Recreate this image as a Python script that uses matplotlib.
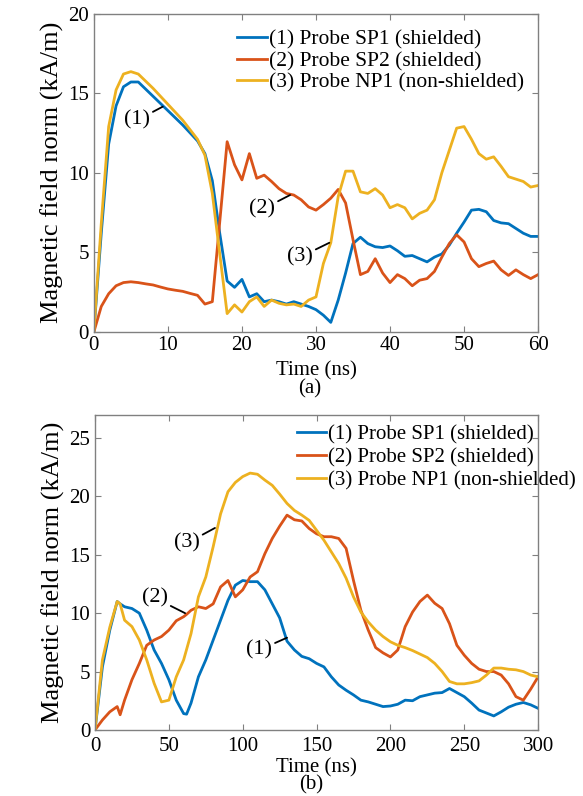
import numpy as np
import matplotlib.pyplot as plt

plt.rcParams['font.family'] = ['Liberation Serif', 'DejaVu Serif']

C1, C2, C3 = '#0072BD', '#D95319', '#EDB120'
labels = ['(1) Probe SP1 (shielded)', '(2) Probe SP2 (shielded)',
          '(3) Probe NP1 (non-shielded)']

# ---- panel (a): 0-60 ns ----
t_a = np.arange(0, 61)
sp1_a = [0, 6.2, 11.8, 14.2, 15.4, 15.7, 15.7, 15.25, 14.8, 14.35, 13.9, 13.45,
         13.0, 12.5, 12.0, 11.2, 9.5, 6.2, 3.2, 2.8, 3.3, 2.2, 2.4, 1.9, 2.0,
         1.9, 1.75, 1.9, 1.75, 1.6, 1.4, 1.05, 0.6, 2.0, 3.7, 5.55, 5.95, 5.55,
         5.35, 5.3, 5.4, 5.1, 4.75, 4.8, 4.6, 4.4, 4.7, 4.9, 5.45, 6.2, 6.9,
         7.65, 7.7, 7.55, 7.0, 6.85, 6.8, 6.5, 6.2, 6.0, 6.0]
sp2_a = [0, 1.6, 2.4, 2.9, 3.1, 3.15, 3.1, 3.02, 2.95, 2.82, 2.7, 2.62, 2.55,
         2.42, 2.3, 1.75, 1.9, 6.9, 11.95, 10.5, 9.55, 11.2, 9.65, 9.85, 9.45,
         9.0, 8.7, 8.6, 8.3, 7.85, 7.65, 8.0, 8.4, 8.95, 8.1, 5.8, 3.6, 3.8,
         4.6, 3.7, 3.1, 3.6, 3.35, 2.9, 3.25, 3.35, 3.8, 4.7, 5.55, 6.1, 5.65,
         4.6, 4.1, 4.3, 4.45, 3.9, 3.55, 3.9, 3.6, 3.35, 3.6]
np1_a = [0, 6.8, 12.9, 15.2, 16.2, 16.35, 16.2, 15.75, 15.3, 14.8, 14.3, 13.8,
         13.3, 12.7, 12.1, 11.1, 8.7, 4.9, 1.15, 1.7, 1.25, 1.9, 2.2, 1.6, 2.0,
         1.8, 1.7, 1.75, 1.6, 2.0, 2.2, 4.3, 5.6, 8.5, 10.1, 10.1, 8.8, 8.7,
         9.0, 8.6, 7.8, 8.0, 7.8, 7.1, 7.45, 7.65, 8.3, 10.0, 11.4, 12.8, 12.9,
         12.1, 11.2, 10.85, 11.0, 10.4, 9.75, 9.6, 9.45, 9.1, 9.2]

# ---- panel (b): 0-300 ns ----
t_b = [0, 5, 10, 15, 17, 20, 25, 30, 35, 40, 45, 50, 55, 60, 62, 65, 70, 75,
       80, 85, 90, 95, 100, 105, 110, 115, 120, 125, 130, 135, 140, 145, 150,
       155, 160, 165, 170, 175, 180, 185, 190, 195, 200, 205, 210, 215, 220,
       225, 230, 235, 240, 245, 250, 255, 260, 265, 270, 275, 280, 285, 290,
       295, 300]
sp1_b = [0, 5.4, 8.55, 11.0, 10.8, 10.55, 10.4, 10.0, 8.55, 6.85, 5.7, 4.3,
         2.55, 1.4, 1.35, 2.3, 4.55, 6.0, 7.7, 9.4, 11.1, 12.4, 12.8, 12.7,
         12.7, 12.0, 10.8, 9.6, 7.6, 6.85, 6.3, 6.1, 5.7, 5.4, 4.55, 3.85, 3.4,
         3.0, 2.55, 2.4, 2.2, 2.0, 2.05, 2.2, 2.55, 2.5, 2.85, 3.0, 3.15, 3.2,
         3.55, 3.2, 2.85, 2.3, 1.7, 1.45, 1.2, 1.55, 1.95, 2.2, 2.35, 2.15, 1.85]
np1_b = [0, 6.0, 8.8, 11.0, 10.8, 9.4, 8.85, 7.7, 6.0, 4.0, 2.4, 2.55, 4.55,
         6.0, 6.9, 8.25, 11.4, 13.1, 15.7, 18.5, 20.4, 21.2, 21.7, 22.0, 21.9,
         21.4, 20.95, 20.2, 19.4, 18.8, 18.4, 17.95, 17.1, 16.25, 15.25, 14.25,
         13.0, 11.4, 10.1, 9.25, 8.55, 8.0, 7.55, 7.25, 7.05, 6.8, 6.5, 6.2,
         5.7, 5.0, 4.15, 3.95, 3.95, 4.05, 4.2, 4.7, 5.3, 5.3, 5.2, 5.15, 5.0,
         4.7, 4.55]
sp2_b = [0, 0.85, 1.55, 2.0, 1.3, 2.55, 4.3, 5.7, 7.25, 7.7, 8.0, 8.55, 9.35,
         9.7, 9.9, 10.25, 10.55, 10.4, 10.8, 12.25, 12.8, 11.4, 12.0, 13.1,
         13.55, 15.1, 16.4, 17.45, 18.4, 18.0, 17.9, 17.25, 16.8, 16.55, 16.55,
         16.4, 15.55, 12.8, 10.25, 8.55, 7.05, 6.6, 6.25, 6.85, 8.85, 10.1,
         11.0, 11.55, 10.85, 10.4, 9.1, 7.25, 6.4, 5.7, 5.2, 5.0, 5.0, 4.7,
         3.95, 2.85, 2.55, 3.5, 4.55]

fig = plt.figure(figsize=(5.83, 7.96), dpi=100)
ax1 = fig.add_axes([0.161, 0.583, 0.762, 0.400])
ax2 = fig.add_axes([0.163, 0.083, 0.760, 0.396])

frame = '#808080'
for ax in (ax1, ax2):
    for s in ax.spines.values():
        s.set_color(frame)
        s.set_linewidth(1.0)
    ax.tick_params(direction='in', top=True, right=True, labelsize=15,
                   color=frame, length=4)
ax1.tick_params(axis='x', pad=3)
ax2.tick_params(axis='x', pad=5)

leg_kw = dict(frameon=False, handlelength=1.4, handletextpad=0.1,
              borderaxespad=0.0, borderpad=0.0)
line_kw = dict(arrowstyle='-', color='black', lw=1.3, shrinkA=0, shrinkB=0)

# panel (a)
ax1.plot(t_a, sp1_a, color=C1, lw=2, label=labels[0])
ax1.plot(t_a, sp2_a, color=C2, lw=2, label=labels[1])
ax1.plot(t_a, np1_a, color=C3, lw=2, label=labels[2])
ax1.set_xlim(0, 60)
ax1.set_ylim(0, 20)
ax1.set_xticks([0, 10, 20, 30, 40, 50, 60])
ax1.set_yticks([0, 5, 10, 15, 20])
ax1.set_xlabel('Time (ns)', fontsize=15, labelpad=4.5)
ax1.set_ylabel('Magnetic field norm (kA/m)', fontsize=19, labelpad=3)
ax1.legend(loc='upper left', bbox_to_anchor=(0.322, 0.95), fontsize=15.5,
           labelspacing=0.07, **leg_kw)
for txt, xy, xyt in [('(1)', (9.3, 14.15), (7.6, 13.3)),
                     ('(2)', (26.5, 8.6), (24.5, 7.7)),
                     ('(3)', (31.8, 5.6), (29.6, 4.7))]:
    ax1.annotate(txt, xy=xy, xytext=xyt, fontsize=16, ha='right', va='center',
                 arrowprops=line_kw)
fig.text(0.5 * (0.161 + 0.923) - 0.01, 1 - 389 / 796, '(a)', fontsize=15,
         ha='center', va='center')

# panel (b)
ax2.plot(t_b, sp1_b, color=C1, lw=2, label=labels[0])
ax2.plot(t_b, sp2_b, color=C2, lw=2, label=labels[1])
ax2.plot(t_b, np1_b, color=C3, lw=2, label=labels[2])
ax2.set_xlim(0, 300)
ax2.set_ylim(0, 27)
ax2.set_xticks([0, 50, 100, 150, 200, 250, 300])
ax2.set_yticks([0, 5, 10, 15, 20, 25])
ax2.set_xlabel('Time (ns)', fontsize=15, labelpad=1.5)
ax2.set_ylabel('Magnetic field norm (kA/m)', fontsize=19, labelpad=3)
ax2.legend(loc='upper left', bbox_to_anchor=(0.456, 0.967), fontsize=15,
           labelspacing=0.16, **leg_kw)
for txt, xy, xyt in [('(3)', (81.2, 17.3), (71, 16.0)),
                     ('(2)', (61, 10.0), (49.4, 11.3)),
                     ('(1)', (130, 7.9), (120, 6.85))]:
    ax2.annotate(txt, xy=xy, xytext=xyt, fontsize=16, ha='right', va='center',
                 arrowprops=line_kw)
fig.text(0.5 * (0.163 + 0.923) - 0.01, 1 - 785 / 796, '(b)', fontsize=15,
         ha='center', va='center')

fig.savefig('out.png', dpi=100)
